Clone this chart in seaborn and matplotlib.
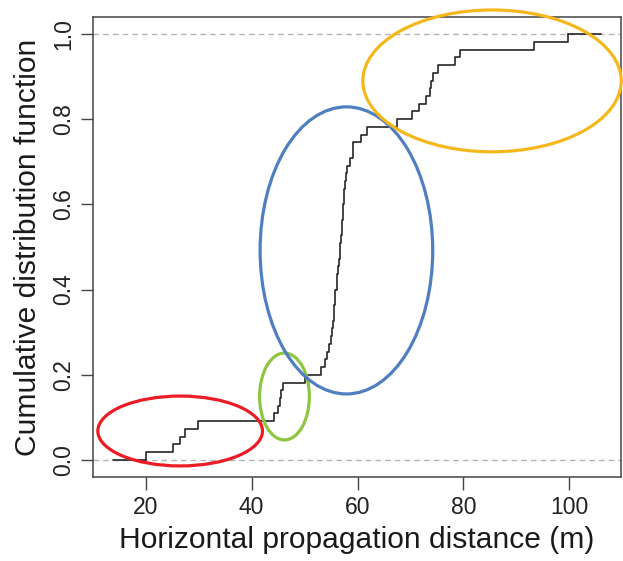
import numpy as np
import pandas as pd
import matplotlib
matplotlib.use("Agg")
import matplotlib.pyplot as plt
from matplotlib.patches import Ellipse
import seaborn as sns

# Horizontal propagation distances (m), one per event
distances = [
    20.1, 25.2, 26.4, 27.4, 29.8,
    44.3, 44.9, 45.3, 45.6, 46.0,
    50.1, 53.1, 53.9, 54.3, 54.7, 55.0, 55.2, 55.3, 55.5, 55.6,
    55.7, 55.8, 56.1, 56.2, 56.3, 56.5, 56.6, 56.7, 56.9, 57.0,
    57.1, 57.2, 57.3, 57.4, 57.5, 57.7, 57.8, 58.0, 58.6, 59.1,
    59.2, 60.6, 61.8,
    67.5, 70.3, 71.6, 72.9, 73.7, 73.8, 74.3, 75.2, 78.4, 79.3,
    93.3, 99.7,
]

x_ticks = [20, 40, 60, 80, 100]
y_ticks = [0.0, 0.2, 0.4, 0.6, 0.8, 1.0]
x_label = "Horizontal propagation distance (m)"
y_label = "Cumulative distribution function"

# Highlighted groups: (centre x, centre y, width, height, colour)
group_centres_x = [26.5, 46.2, 57.9, 85.4]
group_centres_y = [0.068, 0.149, 0.492, 0.890]
group_widths = [31.1, 9.4, 32.6, 48.8]
group_heights = [0.164, 0.204, 0.674, 0.333]
group_colors = ["#ec1c24", "#8dc641", "#4f7fc1", "#f5b81c"]

df = pd.DataFrame({"distance": distances})

sns.set_theme(style="white")
plt.rcParams["font.family"] = ["Liberation Sans", "DejaVu Sans"]

fig = plt.figure(figsize=(6.23, 5.61), dpi=100)
ax = fig.add_axes([93 / 623, 1 - 477 / 561, 528 / 623, 460 / 561])

# Axis limits in the style of a step-function plot: widen by 8% then 4%
xmin, xmax = min(distances), max(distances)
dr = 0.08 * (xmax - xmin)
lo, hi = xmin - dr, xmax + dr
pad = 0.04 * (hi - lo)
ax.set_xlim(lo - pad, hi + pad)
ax.set_ylim(-0.04, 1.04)

# Reference lines at 0 and 1
for h in (0, 1):
    ax.axhline(h, color="#b3b3b3", lw=1.0, ls=(0, (4, 3)), zorder=1)

sns.ecdfplot(data=df, x="distance", ax=ax, color="#262626", lw=1.2, zorder=3)
# Tails of the step function beyond the observed range
ax.plot([lo, xmin], [0, 0], color="#262626", lw=1.2, zorder=3)
ax.plot([xmax, hi], [1, 1], color="#262626", lw=1.2, zorder=3)

for cx, cy, w, h, c in zip(group_centres_x, group_centres_y,
                           group_widths, group_heights, group_colors):
    ax.add_patch(Ellipse((cx, cy), w, h, fill=False, edgecolor=c, lw=2.3,
                         clip_on=False, zorder=4))

ax.set_xticks(x_ticks)
ax.set_xticklabels([str(t) for t in x_ticks])
ax.set_yticks(y_ticks)
ax.set_yticklabels([f"{t:.1f}" for t in y_ticks], rotation=90, va="center")

ax.tick_params(axis="both", direction="out", length=9, width=1.0,
               color="#444444", labelsize=16.5, labelcolor="#222222",
               bottom=True, left=True)
ax.tick_params(axis="x", pad=5)
ax.tick_params(axis="y", pad=4)

for s in ax.spines.values():
    s.set_color("#444444")
    s.set_linewidth(1.1)

ax.set_xlabel(x_label, fontsize=21.6, color="#1a1a1a", labelpad=5)
ax.set_ylabel(y_label, fontsize=21.6, color="#1a1a1a", labelpad=7)
ax.grid(False)

fig.savefig("out.png", dpi=100)
